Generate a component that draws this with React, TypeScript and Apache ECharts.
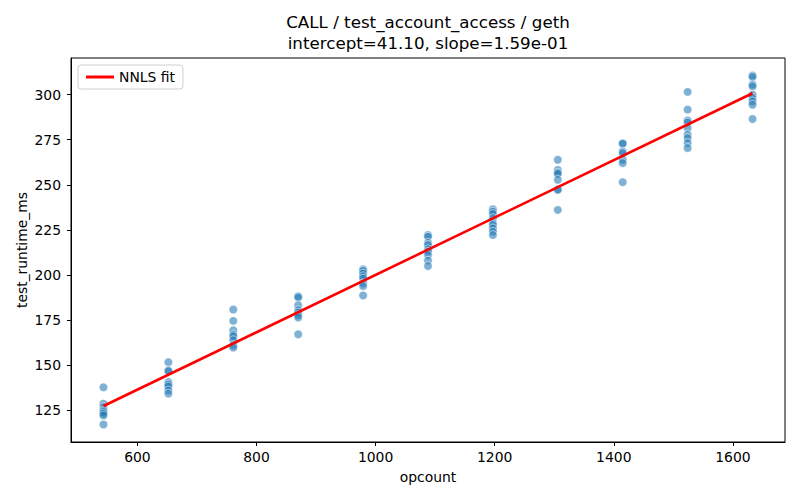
import React, { useEffect, useRef } from "react";
import * as echarts from "echarts";

const TITLE_LINE1 = "CALL / test_account_access / geth";
const TITLE_LINE2 = "intercept=41.10, slope=1.59e-01";
const X_NAME = "opcount";
const Y_NAME = "test_runtime_ms";
const LEGEND_NAME = "NNLS fit";

const OPCOUNTS = [543, 652, 761, 870, 979, 1088, 1197, 1306, 1415, 1524, 1633];
const RUNTIMES: number[][] = [
  [137.8, 128.7, 126.8, 125.0, 124.2, 123.2, 122.2, 117.2],
  [151.7, 147.2, 146.8, 140.7, 139.4, 138.3, 136.1, 134.3],
  [180.9, 174.6, 169.4, 167.0, 166.1, 163.9, 161.1, 159.8],
  [188.3, 187.6, 183.3, 180.6, 179.3, 177.8, 176.5, 167.2],
  [203.3, 202.4, 200.9, 199.4, 198.1, 195.4, 193.9, 188.7],
  [222.2, 221.3, 217.9, 216.7, 214.3, 213.0, 211.1, 208.0, 205.0],
  [236.5, 235.2, 233.9, 231.5, 228.7, 227.8, 225.9, 224.1, 222.2],
  [263.9, 258.3, 256.8, 256.1, 252.8, 247.6, 247.2, 236.1],
  [273.1, 272.8, 268.5, 267.6, 263.9, 262.1, 251.5],
  [301.5, 291.7, 285.7, 284.6, 281.5, 277.8, 275.9, 273.2, 270.4],
  [310.6, 309.8, 305.6, 304.6, 300.0, 298.2, 296.3, 294.4, 286.5],
];
const FIT_X = [543, 1633];
const FIT_Y = [127.44, 300.75];
const X_TICKS = [600, 800, 1000, 1200, 1400, 1600];
const Y_TICKS = [125, 150, 175, 200, 225, 250, 275, 300];
const X_RANGE = [488.5, 1687.5];
const Y_RANGE = [107.5, 320.3];

const FONT = "DejaVu Sans";

export default function App() {
  const ref = useRef<HTMLDivElement>(null);
  useEffect(() => {
    if (!ref.current) return;
    const chart = echarts.init(ref.current, null, { renderer: "svg" });
    const scatterData: number[][] = [];
    OPCOUNTS.forEach((x, i) => {
      RUNTIMES[i].forEach((y) => scatterData.push([x, y]));
    });
    const fitData = FIT_X.map((x, i) => [x, FIT_Y[i]]);
    chart.setOption({
      animation: false,
      backgroundColor: "#fff",
      textStyle: { fontFamily: FONT },
      graphic: [
        {
          type: "text",
          x: 428,
          y: 22,
          style: {
            text: TITLE_LINE1,
            fontFamily: FONT,
            fontSize: 16.7,
            fill: "#000",
            align: "center",
            verticalAlign: "middle",
          },
        },
        {
          type: "text",
          x: 428,
          y: 43,
          style: {
            text: TITLE_LINE2,
            fontFamily: FONT,
            fontSize: 16.7,
            fill: "#000",
            align: "center",
            verticalAlign: "middle",
          },
        },
      ],
      legend: {
        left: 78,
        top: 65,
        data: [LEGEND_NAME],
        icon: "rect",
        itemWidth: 28,
        itemHeight: 3,
        itemGap: 8,
        padding: [5, 8, 5, 8],
        borderColor: "#d0d0d0",
        borderWidth: 1,
        borderRadius: 3,
        backgroundColor: "rgba(255,255,255,0.8)",
        textStyle: { fontFamily: FONT, fontSize: 13.9, color: "#000" },
      },
      grid: {
        left: 71,
        right: 15,
        top: 58,
        bottom: 58,
        show: true,
        borderColor: "#000",
        borderWidth: 1,
        containLabel: false,
      },
      xAxis: {
        type: "value",
        min: X_RANGE[0],
        max: X_RANGE[1],
        name: X_NAME,
        nameLocation: "middle",
        nameGap: 28,
        nameMoveOverlap: false,
        nameTextStyle: { fontFamily: FONT, fontSize: 13.9, color: "#000" },
        splitLine: { show: false },
        axisLine: { show: true, lineStyle: { color: "#000", width: 1 } },
        axisTick: {
          show: true,
          inside: false,
          length: 4,
          lineStyle: { color: "#000" },
          customValues: X_TICKS,
        },
        axisLabel: {
          fontFamily: FONT,
          fontSize: 13.9,
          color: "#000",
          margin: 8,
          customValues: X_TICKS,
          formatter: (v: number) => String(v),
        },
      },
      yAxis: {
        type: "value",
        min: Y_RANGE[0],
        max: Y_RANGE[1],
        name: Y_NAME,
        nameLocation: "middle",
        nameGap: 42,
        nameMoveOverlap: false,
        nameRotate: 90,
        nameTextStyle: { fontFamily: FONT, fontSize: 13.9, color: "#000" },
        splitLine: { show: false },
        axisLine: { show: true, lineStyle: { color: "#000", width: 1 } },
        axisTick: {
          show: true,
          inside: false,
          length: 4,
          lineStyle: { color: "#000" },
          customValues: Y_TICKS,
        },
        axisLabel: {
          fontFamily: FONT,
          fontSize: 13.9,
          color: "#000",
          margin: 10,
          customValues: Y_TICKS,
          formatter: (v: number) => String(v),
        },
      },
      series: [
        {
          type: "scatter",
          name: "data",
          data: scatterData,
          symbolSize: 8.5,
          itemStyle: {
            color: "rgba(31,119,180,0.72)",
            borderColor: "rgba(255,255,255,0.85)",
            borderWidth: 0.8,
          },
          z: 2,
        },
        {
          type: "line",
          name: LEGEND_NAME,
          data: fitData,
          showSymbol: false,
          symbol: "none",
          lineStyle: { color: "#ff0000", width: 2.6 },
          itemStyle: { color: "#ff0000" },
          z: 3,
        },
      ],
    });
    return () => chart.dispose();
  }, []);
  return <div ref={ref} style={{ width: 800, height: 500, margin: -8 }} />;
}
